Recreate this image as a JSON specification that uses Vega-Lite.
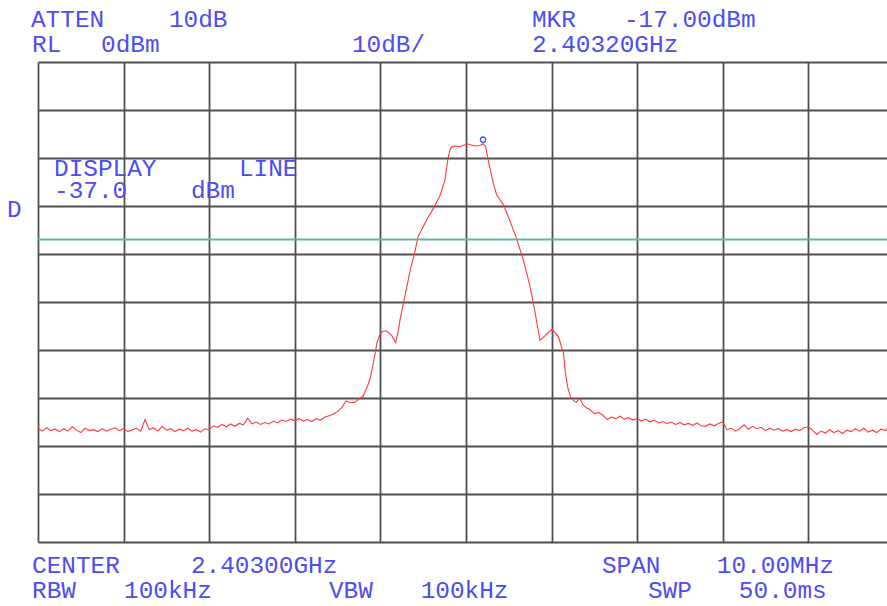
{
  "$schema": "https://vega.github.io/schema/vega-lite/v6.json",
  "autosize": {"type": "none"},
  "padding": {"left": 38, "top": 62, "right": 0, "bottom": 64},
  "width": 849,
  "height": 480,
  "background": "white",
  "config": {
    "view": {"stroke": null},
    "axis": {"labels": false, "ticks": false, "domain": false, "grid": true, "gridColor": "#505050", "gridWidth": 1.8, "gridOpacity": 1}
  },
  "datasets": {
    "trace": [
      {"freq_mhz": 2398.00, "level_dbm": -76.3}, {"freq_mhz": 2398.05, "level_dbm": -76.9}, {"freq_mhz": 2398.10, "level_dbm": -76.2}, {"freq_mhz": 2398.15, "level_dbm": -76.8},
      {"freq_mhz": 2398.20, "level_dbm": -76.5}, {"freq_mhz": 2398.25, "level_dbm": -77.0}, {"freq_mhz": 2398.30, "level_dbm": -76.4}, {"freq_mhz": 2398.35, "level_dbm": -76.9},
      {"freq_mhz": 2398.40, "level_dbm": -76.0}, {"freq_mhz": 2398.45, "level_dbm": -76.7}, {"freq_mhz": 2398.50, "level_dbm": -77.2}, {"freq_mhz": 2398.55, "level_dbm": -76.3},
      {"freq_mhz": 2398.60, "level_dbm": -76.8}, {"freq_mhz": 2398.65, "level_dbm": -76.6}, {"freq_mhz": 2398.70, "level_dbm": -77.0}, {"freq_mhz": 2398.75, "level_dbm": -76.4},
      {"freq_mhz": 2398.80, "level_dbm": -76.9}, {"freq_mhz": 2398.85, "level_dbm": -76.5}, {"freq_mhz": 2398.90, "level_dbm": -76.2}, {"freq_mhz": 2398.95, "level_dbm": -76.8},
      {"freq_mhz": 2399.00, "level_dbm": -76.4}, {"freq_mhz": 2399.05, "level_dbm": -77.0}, {"freq_mhz": 2399.10, "level_dbm": -76.6}, {"freq_mhz": 2399.15, "level_dbm": -76.3},
      {"freq_mhz": 2399.20, "level_dbm": -76.9}, {"freq_mhz": 2399.25, "level_dbm": -74.5}, {"freq_mhz": 2399.30, "level_dbm": -76.6}, {"freq_mhz": 2399.35, "level_dbm": -76.2},
      {"freq_mhz": 2399.40, "level_dbm": -76.9}, {"freq_mhz": 2399.45, "level_dbm": -75.9}, {"freq_mhz": 2399.50, "level_dbm": -76.7}, {"freq_mhz": 2399.55, "level_dbm": -76.4},
      {"freq_mhz": 2399.60, "level_dbm": -77.0}, {"freq_mhz": 2399.65, "level_dbm": -76.5}, {"freq_mhz": 2399.70, "level_dbm": -76.8}, {"freq_mhz": 2399.75, "level_dbm": -76.3},
      {"freq_mhz": 2399.80, "level_dbm": -76.9}, {"freq_mhz": 2399.85, "level_dbm": -76.6}, {"freq_mhz": 2399.90, "level_dbm": -77.1}, {"freq_mhz": 2399.95, "level_dbm": -76.4},
      {"freq_mhz": 2400.00, "level_dbm": -76.6}, {"freq_mhz": 2400.05, "level_dbm": -75.8}, {"freq_mhz": 2400.10, "level_dbm": -76.1}, {"freq_mhz": 2400.15, "level_dbm": -75.5},
      {"freq_mhz": 2400.20, "level_dbm": -76.0}, {"freq_mhz": 2400.25, "level_dbm": -75.4}, {"freq_mhz": 2400.30, "level_dbm": -75.9}, {"freq_mhz": 2400.35, "level_dbm": -75.3},
      {"freq_mhz": 2400.40, "level_dbm": -75.6}, {"freq_mhz": 2400.45, "level_dbm": -74.2}, {"freq_mhz": 2400.50, "level_dbm": -75.4}, {"freq_mhz": 2400.55, "level_dbm": -75.0},
      {"freq_mhz": 2400.60, "level_dbm": -75.5}, {"freq_mhz": 2400.65, "level_dbm": -75.1}, {"freq_mhz": 2400.70, "level_dbm": -75.4}, {"freq_mhz": 2400.75, "level_dbm": -74.8},
      {"freq_mhz": 2400.80, "level_dbm": -75.2}, {"freq_mhz": 2400.85, "level_dbm": -74.6}, {"freq_mhz": 2400.90, "level_dbm": -74.9}, {"freq_mhz": 2400.95, "level_dbm": -74.4},
      {"freq_mhz": 2401.00, "level_dbm": -74.7}, {"freq_mhz": 2401.05, "level_dbm": -74.3}, {"freq_mhz": 2401.10, "level_dbm": -74.8}, {"freq_mhz": 2401.15, "level_dbm": -74.5},
      {"freq_mhz": 2401.20, "level_dbm": -74.9}, {"freq_mhz": 2401.25, "level_dbm": -74.3}, {"freq_mhz": 2401.30, "level_dbm": -74.6}, {"freq_mhz": 2401.35, "level_dbm": -74.0},
      {"freq_mhz": 2401.40, "level_dbm": -73.7}, {"freq_mhz": 2401.45, "level_dbm": -73.4}, {"freq_mhz": 2401.50, "level_dbm": -72.8}, {"freq_mhz": 2401.55, "level_dbm": -72.0},
      {"freq_mhz": 2401.60, "level_dbm": -70.6}, {"freq_mhz": 2401.65, "level_dbm": -71.0}, {"freq_mhz": 2401.70, "level_dbm": -70.9}, {"freq_mhz": 2401.75, "level_dbm": -70.2},
      {"freq_mhz": 2401.80, "level_dbm": -69.6}, {"freq_mhz": 2401.85, "level_dbm": -67.5}, {"freq_mhz": 2401.88, "level_dbm": -66.0}, {"freq_mhz": 2401.925, "level_dbm": -62.1},
      {"freq_mhz": 2401.96, "level_dbm": -58.5}, {"freq_mhz": 2401.99, "level_dbm": -57.0}, {"freq_mhz": 2402.02, "level_dbm": -56.2}, {"freq_mhz": 2402.07, "level_dbm": -56.0},
      {"freq_mhz": 2402.13, "level_dbm": -56.9}, {"freq_mhz": 2402.18, "level_dbm": -58.5}, {"freq_mhz": 2402.21, "level_dbm": -56.0}, {"freq_mhz": 2402.23, "level_dbm": -53.7},
      {"freq_mhz": 2402.27, "level_dbm": -50.3}, {"freq_mhz": 2402.31, "level_dbm": -46.8}, {"freq_mhz": 2402.35, "level_dbm": -43.3}, {"freq_mhz": 2402.40, "level_dbm": -39.8},
      {"freq_mhz": 2402.44, "level_dbm": -36.4}, {"freq_mhz": 2402.50, "level_dbm": -34.3}, {"freq_mhz": 2402.54, "level_dbm": -32.9}, {"freq_mhz": 2402.62, "level_dbm": -30.5},
      {"freq_mhz": 2402.70, "level_dbm": -27.7}, {"freq_mhz": 2402.755, "level_dbm": -24.6}, {"freq_mhz": 2402.79, "level_dbm": -20.1}, {"freq_mhz": 2402.82, "level_dbm": -18.0},
      {"freq_mhz": 2402.85, "level_dbm": -17.5}, {"freq_mhz": 2402.93, "level_dbm": -17.6}, {"freq_mhz": 2402.98, "level_dbm": -17.3}, {"freq_mhz": 2403.03, "level_dbm": -17.1},
      {"freq_mhz": 2403.08, "level_dbm": -17.4}, {"freq_mhz": 2403.13, "level_dbm": -17.5}, {"freq_mhz": 2403.18, "level_dbm": -17.3}, {"freq_mhz": 2403.20, "level_dbm": -17.0},
      {"freq_mhz": 2403.23, "level_dbm": -17.6}, {"freq_mhz": 2403.26, "level_dbm": -20.4}, {"freq_mhz": 2403.32, "level_dbm": -25.3}, {"freq_mhz": 2403.36, "level_dbm": -27.7},
      {"freq_mhz": 2403.44, "level_dbm": -29.8}, {"freq_mhz": 2403.51, "level_dbm": -32.9}, {"freq_mhz": 2403.59, "level_dbm": -36.7}, {"freq_mhz": 2403.67, "level_dbm": -41.2},
      {"freq_mhz": 2403.75, "level_dbm": -46.8}, {"freq_mhz": 2403.81, "level_dbm": -52.4}, {"freq_mhz": 2403.865, "level_dbm": -58.0}, {"freq_mhz": 2403.92, "level_dbm": -57.1},
      {"freq_mhz": 2403.97, "level_dbm": -56.2}, {"freq_mhz": 2404.01, "level_dbm": -55.7}, {"freq_mhz": 2404.08, "level_dbm": -57.2}, {"freq_mhz": 2404.14, "level_dbm": -60.7},
      {"freq_mhz": 2404.16, "level_dbm": -64.5}, {"freq_mhz": 2404.19, "level_dbm": -67.8}, {"freq_mhz": 2404.22, "level_dbm": -69.7}, {"freq_mhz": 2404.26, "level_dbm": -70.6},
      {"freq_mhz": 2404.29, "level_dbm": -70.9}, {"freq_mhz": 2404.33, "level_dbm": -70.0}, {"freq_mhz": 2404.37, "level_dbm": -71.5}, {"freq_mhz": 2404.41, "level_dbm": -72.1},
      {"freq_mhz": 2404.45, "level_dbm": -72.4}, {"freq_mhz": 2404.50, "level_dbm": -73.3}, {"freq_mhz": 2404.55, "level_dbm": -73.0}, {"freq_mhz": 2404.60, "level_dbm": -73.6},
      {"freq_mhz": 2404.65, "level_dbm": -74.5}, {"freq_mhz": 2404.70, "level_dbm": -74.0}, {"freq_mhz": 2404.75, "level_dbm": -74.3}, {"freq_mhz": 2404.80, "level_dbm": -73.8},
      {"freq_mhz": 2404.85, "level_dbm": -74.4}, {"freq_mhz": 2404.90, "level_dbm": -74.1}, {"freq_mhz": 2404.95, "level_dbm": -74.6}, {"freq_mhz": 2405.00, "level_dbm": -74.3},
      {"freq_mhz": 2405.05, "level_dbm": -74.8}, {"freq_mhz": 2405.10, "level_dbm": -74.4}, {"freq_mhz": 2405.15, "level_dbm": -75.0}, {"freq_mhz": 2405.20, "level_dbm": -74.6},
      {"freq_mhz": 2405.25, "level_dbm": -75.2}, {"freq_mhz": 2405.30, "level_dbm": -74.9}, {"freq_mhz": 2405.35, "level_dbm": -75.3}, {"freq_mhz": 2405.40, "level_dbm": -75.0},
      {"freq_mhz": 2405.45, "level_dbm": -75.5}, {"freq_mhz": 2405.50, "level_dbm": -75.1}, {"freq_mhz": 2405.55, "level_dbm": -75.6}, {"freq_mhz": 2405.60, "level_dbm": -75.3},
      {"freq_mhz": 2405.65, "level_dbm": -75.7}, {"freq_mhz": 2405.70, "level_dbm": -75.2}, {"freq_mhz": 2405.75, "level_dbm": -75.8}, {"freq_mhz": 2405.80, "level_dbm": -75.9},
      {"freq_mhz": 2405.85, "level_dbm": -75.4}, {"freq_mhz": 2405.90, "level_dbm": -75.8}, {"freq_mhz": 2405.95, "level_dbm": -75.3}, {"freq_mhz": 2406.00, "level_dbm": -75.0},
      {"freq_mhz": 2406.05, "level_dbm": -76.6}, {"freq_mhz": 2406.10, "level_dbm": -76.3}, {"freq_mhz": 2406.15, "level_dbm": -76.9}, {"freq_mhz": 2406.20, "level_dbm": -76.4},
      {"freq_mhz": 2406.25, "level_dbm": -75.6}, {"freq_mhz": 2406.30, "level_dbm": -76.5}, {"freq_mhz": 2406.35, "level_dbm": -75.9}, {"freq_mhz": 2406.40, "level_dbm": -76.4},
      {"freq_mhz": 2406.45, "level_dbm": -76.1}, {"freq_mhz": 2406.50, "level_dbm": -76.8}, {"freq_mhz": 2406.55, "level_dbm": -76.3}, {"freq_mhz": 2406.60, "level_dbm": -76.7},
      {"freq_mhz": 2406.65, "level_dbm": -76.4}, {"freq_mhz": 2406.70, "level_dbm": -76.9}, {"freq_mhz": 2406.75, "level_dbm": -76.6}, {"freq_mhz": 2406.80, "level_dbm": -77.0},
      {"freq_mhz": 2406.85, "level_dbm": -76.5}, {"freq_mhz": 2406.90, "level_dbm": -76.8}, {"freq_mhz": 2406.95, "level_dbm": -76.2}, {"freq_mhz": 2407.00, "level_dbm": -76.0},
      {"freq_mhz": 2407.05, "level_dbm": -76.7}, {"freq_mhz": 2407.10, "level_dbm": -77.6}, {"freq_mhz": 2407.15, "level_dbm": -76.9}, {"freq_mhz": 2407.20, "level_dbm": -77.3},
      {"freq_mhz": 2407.25, "level_dbm": -76.6}, {"freq_mhz": 2407.30, "level_dbm": -77.2}, {"freq_mhz": 2407.35, "level_dbm": -76.8}, {"freq_mhz": 2407.40, "level_dbm": -77.4},
      {"freq_mhz": 2407.45, "level_dbm": -76.7}, {"freq_mhz": 2407.50, "level_dbm": -77.0}, {"freq_mhz": 2407.55, "level_dbm": -76.4}, {"freq_mhz": 2407.60, "level_dbm": -76.9},
      {"freq_mhz": 2407.65, "level_dbm": -76.3}, {"freq_mhz": 2407.70, "level_dbm": -77.1}, {"freq_mhz": 2407.75, "level_dbm": -76.7}, {"freq_mhz": 2407.80, "level_dbm": -77.2},
      {"freq_mhz": 2407.85, "level_dbm": -76.5}, {"freq_mhz": 2407.90, "level_dbm": -76.8}, {"freq_mhz": 2407.92, "level_dbm": -76.3}
    ],
    "labels": [
      {"label": "ATTEN", "freq_mhz": 2397.918, "level_dbm": 7.3},
      {"label": "10dB", "freq_mhz": 2399.530, "level_dbm": 7.3},
      {"label": "MKR", "freq_mhz": 2403.771, "level_dbm": 7.3},
      {"label": "-17.00dBm", "freq_mhz": 2404.846, "level_dbm": 7.3},
      {"label": "RL", "freq_mhz": 2397.930, "level_dbm": 2.1},
      {"label": "0dBm", "freq_mhz": 2398.736, "level_dbm": 2.1},
      {"label": "10dB/", "freq_mhz": 2401.668, "level_dbm": 2.1},
      {"label": "2.40320GHz", "freq_mhz": 2403.771, "level_dbm": 2.1},
      {"label": "CENTER", "freq_mhz": 2397.930, "level_dbm": -106.5},
      {"label": "2.40300GHz", "freq_mhz": 2399.787, "level_dbm": -106.5},
      {"label": "SPAN", "freq_mhz": 2404.589, "level_dbm": -106.5},
      {"label": "10.00MHz", "freq_mhz": 2405.932, "level_dbm": -106.5},
      {"label": "RBW", "freq_mhz": 2397.930, "level_dbm": -111.7},
      {"label": "100kHz", "freq_mhz": 2399.005, "level_dbm": -111.7},
      {"label": "VBW", "freq_mhz": 2401.400, "level_dbm": -111.7},
      {"label": "100kHz", "freq_mhz": 2402.471, "level_dbm": -111.7},
      {"label": "SWP", "freq_mhz": 2405.126, "level_dbm": -111.7},
      {"label": "50.0ms", "freq_mhz": 2406.189, "level_dbm": -111.7},
      {"label": "DISPLAY", "freq_mhz": 2398.187, "level_dbm": -23.85},
      {"label": "LINE", "freq_mhz": 2400.348, "level_dbm": -23.85},
      {"label": "-37.0", "freq_mhz": 2398.187, "level_dbm": -28.4},
      {"label": "dBm", "freq_mhz": 2399.787, "level_dbm": -28.4},
      {"label": "D", "freq_mhz": 2397.638, "level_dbm": -32.3}
    ],
    "display_line": [{"level_dbm": -37}],
    "marker": [{"freq_mhz": 2403.2, "level_dbm": -17.0}]
  },
  "layer": [
    {
      "data": {"name": "trace"},
      "mark": {"type": "line", "color": "#ff3a3a", "strokeWidth": 1.1, "clip": true},
      "encoding": {
        "x": {
          "field": "freq_mhz", "type": "quantitative", "title": null,
          "scale": {"domain": [2398, 2407.92], "nice": false, "zero": false},
          "axis": {"values": [2398, 2399, 2400, 2401, 2402, 2403, 2404, 2405, 2406, 2407]}
        },
        "y": {
          "field": "level_dbm", "type": "quantitative", "title": null,
          "scale": {"domain": [-100, 0], "nice": false, "zero": false},
          "axis": {"values": [0, -10, -20, -30, -40, -50, -60, -70, -80, -90, -100]}
        }
      }
    },
    {
      "data": {"name": "display_line"},
      "mark": {"type": "rule", "color": "#5fb3b0", "strokeWidth": 2},
      "encoding": {
        "y": {"field": "level_dbm", "type": "quantitative", "title": null}
      }
    },
    {
      "data": {"name": "marker"},
      "mark": {"type": "point", "shape": "circle", "filled": false, "color": "#4d4df2", "size": 28, "strokeWidth": 1.4, "yOffset": -4, "opacity": 1},
      "encoding": {
        "x": {"field": "freq_mhz", "type": "quantitative", "title": null},
        "y": {"field": "level_dbm", "type": "quantitative", "title": null}
      }
    },
    {
      "data": {"name": "labels"},
      "mark": {"type": "text", "font": "Liberation Mono", "fontSize": 24.4, "align": "left", "baseline": "alphabetic", "color": "#4d4df2", "clip": false},
      "encoding": {
        "x": {"field": "freq_mhz", "type": "quantitative", "title": null},
        "y": {"field": "level_dbm", "type": "quantitative", "title": null},
        "text": {"field": "label", "type": "nominal"}
      }
    }
  ]
}
